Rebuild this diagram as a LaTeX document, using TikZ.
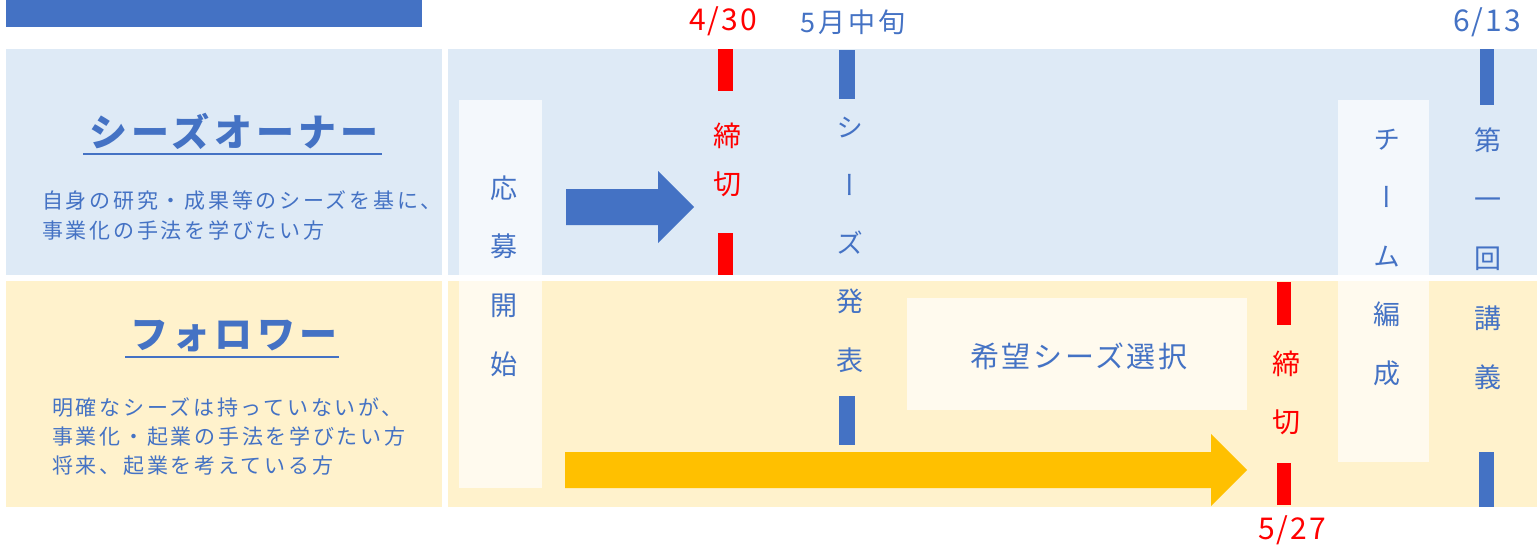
\documentclass[tikz,border=0pt]{standalone}
\usepackage{fontspec}
\setmainfont{Noto Sans CJK JP}
\newfontfamily\vfont[RawFeature=+vert]{Noto Sans CJK JP}
\definecolor{tb}{HTML}{4472C4}
\definecolor{tr}{HTML}{FF0000}
\definecolor{pb}{HTML}{DEEAF6}
\definecolor{py}{HTML}{FFF2CC}
\definecolor{ay}{HTML}{FFC000}
\tikzset{
  panelb/.style={fill=pb, draw=none},
  panely/.style={fill=py, draw=none},
  glass/.style={fill=white, fill opacity=0.68, draw=none},
  redbar/.style={fill=tr, draw=none},
  bluebar/.style={fill=tb, draw=none},
  vcol/.style={inner sep=0pt, align=center},
  titletext/.style={inner sep=0pt, text=tb, font=\fontsize{38}{42}\selectfont\bfseries\addfontfeature{LetterSpace=11}},
  bodytext/.style={inner sep=0pt, text=tb, align=left, anchor=west},
  datelabel/.style={inner sep=0pt, font=\fontsize{30}{32}\selectfont\addfontfeature{LetterSpace=7}},
}
\begin{document}
\begin{tikzpicture}[x=1pt, y=-1pt]
\useasboundingbox (0,0) rectangle (1540,549);
% title bar
\fill[tb] (6,0) rectangle (422,27);
% panels
\fill[panelb] (6,49) rectangle (442,275);
\fill[panely] (6,281) rectangle (442,507);
\fill[panelb] (448,49) rectangle (1537,275);
\fill[panely] (448,281) rectangle (1537,507);
% translucent boxes
\fill[glass] (459,100) rectangle (542,275);
\fill[glass] (459,281) rectangle (542,488);
\fill[glass] (1338,100) rectangle (1429,275);
\fill[glass] (1338,281) rectangle (1429,462);
\fill[glass] (907,298) rectangle (1247,410);
% bars
\fill[redbar] (718,49) rectangle (733,91);
\fill[redbar] (718,233) rectangle (733,275);
\fill[bluebar] (839,50) rectangle (855,99);
\fill[bluebar] (839,396) rectangle (855,445);
\fill[redbar] (1277,282) rectangle (1291,325);
\fill[redbar] (1277,463) rectangle (1291,505);
\fill[bluebar] (1480,49) rectangle (1494,105);
\fill[bluebar] (1479,452) rectangle (1494,507);
% block arrows
\fill[tb] (566,189) -- (658,189) -- (658,171) -- (694,207) -- (658,243) -- (658,225) -- (566,225) -- cycle;
\fill[ay] (565,452) -- (1211,452) -- (1211,434) -- (1247,470) -- (1211,506) -- (1211,488) -- (565,488) -- cycle;
% left titles
\node[titletext] (owner) at (234,131) {シーズオーナー};
\draw[tb, line width=2.5pt] (83,154) -- (382,154);
\node[titletext] (follower) at (234,336) {フォロワー};
\draw[tb, line width=2.5pt] (125,357) -- (339,357);
\node[bodytext, font=\fontsize{21}{30}\selectfont\addfontfeature{LetterSpace=13}] (ownerdesc) at (42,215)
  {自身の研究・成果等のシーズを基に、\\事業化の手法を学びたい方};
\node[bodytext, font=\fontsize{21}{29}\selectfont\addfontfeature{LetterSpace=13}] (followerdesc) at (52,437)
  {明確なシーズは持っていないが、\\事業化・起業の手法を学びたい方\\将来、起業を考えている方};
% vertical texts
\node[vcol, text=tb, font=\vfont\fontsize{27}{58.7}\selectfont] (oubo) at (504,276) {応\\募\\開\\始};
\node[vcol, text=tr, font=\vfont\fontsize{28}{48}\selectfont] (shime1) at (727,160) {締\\切};
\node[vcol, text=tb, font=\vfont\fontsize{27}{58.3}\selectfont] (seeds) at (850,244.5) {シ\\ー\\ズ\\発\\表};
\node[vcol, text=tr, font=\vfont\fontsize{28}{57.5}\selectfont] (shime2) at (1286,393) {締\\切};
\node[vcol, text=tb, font=\vfont\fontsize{27}{58.5}\selectfont] (team) at (1387,257) {チ\\ー\\ム\\編\\成};
\node[vcol, text=tb, font=\vfont\fontsize{27}{59.2}\selectfont] (kougi) at (1488,258.5) {第\\一\\回\\講\\義};
\node[inner sep=0pt, text=tb, font=\fontsize{29}{32}\selectfont\addfontfeature{LetterSpace=9}] (kibou) at (1079,356) {希望シーズ選択};
% date labels
\node[datelabel, text=tr] (d430) at (723,21) {4/30};
\node[datelabel, text=tb, font=\fontsize{27}{30}\selectfont\addfontfeature{LetterSpace=12}] (dmay) at (853,22) {5月中旬};
\node[datelabel, text=tb] (d613) at (1487,22) {6/13};
\node[datelabel, text=tr] (d527) at (1292,530) {5/27};
\end{tikzpicture}
\end{document}
